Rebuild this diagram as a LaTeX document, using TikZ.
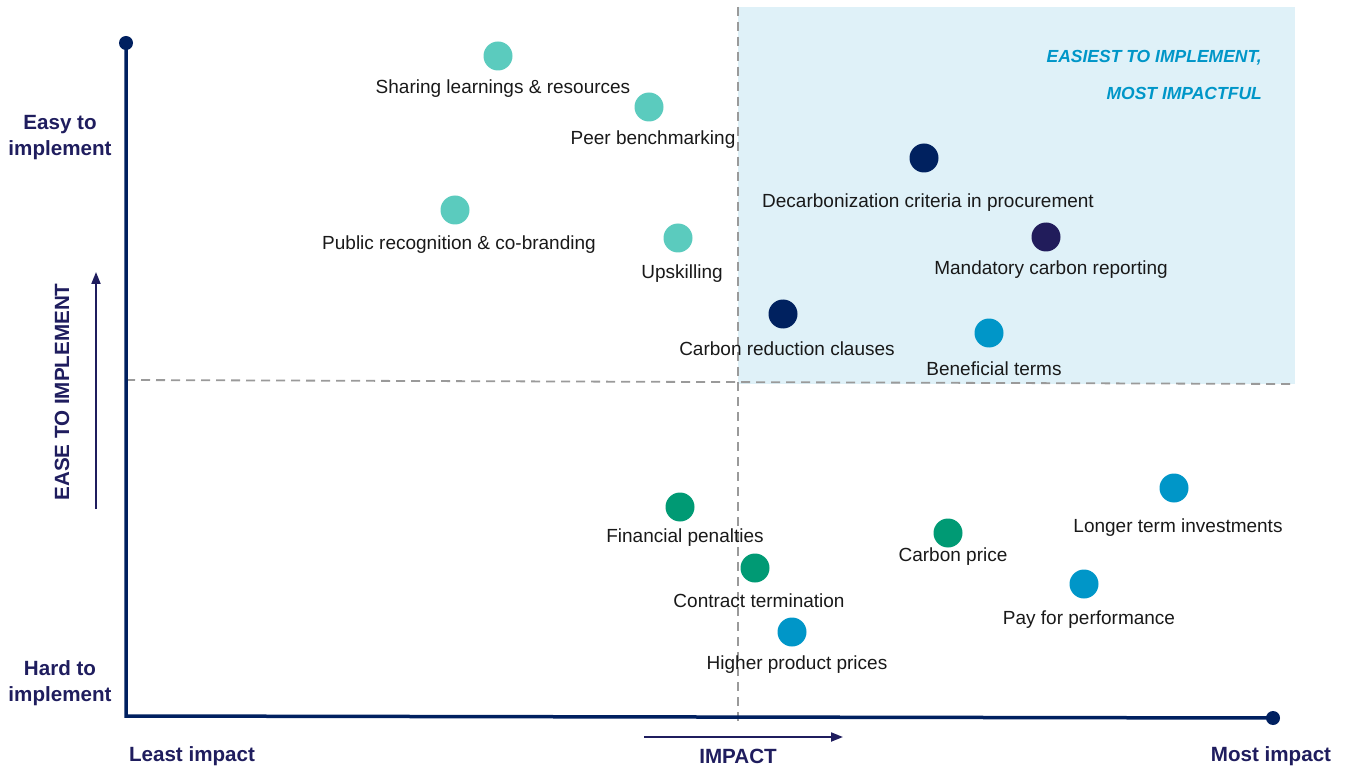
\documentclass[tikz,border=0pt]{standalone}
\usepackage{fontspec}
\setmainfont{Liberation Sans}
\usetikzlibrary{arrows.meta}
\definecolor{teal}{HTML}{5BCBBE}
\definecolor{navy}{HTML}{00215F}
\definecolor{indigo}{HTML}{211C5B}
\definecolor{cblue}{HTML}{0096C8}
\definecolor{cgreen}{HTML}{009A74}
\definecolor{zone}{HTML}{DFF1F8}
\definecolor{axisc}{HTML}{002060}
\definecolor{axtext}{HTML}{1F1D5E}
\definecolor{dashc}{HTML}{9A9A9A}
\tikzset{
  dot/.style={circle,fill=#1,minimum size=29pt,inner sep=0pt,draw=none},
  lbl/.style={font=\fontsize{19}{22}\selectfont,text=black!90,inner sep=0pt,yshift=-2pt},
  axlbl/.style={font=\fontsize{20.6}{26}\selectfont\bfseries,text=axtext,align=center,inner sep=0pt},
  enddot/.style={circle,fill=axisc,minimum size=14pt,inner sep=0pt},
  guide/.style={dashc,line width=1.8pt,dash pattern=on 9pt off 6pt},
  axis/.style={axisc,line width=3.5pt},
  dirarrow/.style={axtext,line width=2pt,-{Triangle[length=12pt,width=9pt]}},
  zonetxt/.style={font=\fontsize{17.5}{21}\selectfont\bfseries\itshape,text=cblue,anchor=east,inner sep=0pt}
}
\begin{document}
\begin{tikzpicture}[x=1pt,y=-1pt]
\useasboundingbox (0,0) rectangle (1349,767);
\fill[zone] (738,7) rectangle (1295,384);
% guides
\coordinate (hl) at (126,380);
\coordinate (hr) at (1295,384);
\coordinate (vt) at (738,7);
\coordinate (vb) at (738,722);
\draw[guide] (hl) -- (hr);
\draw[guide] (vt) -- (vb);
% axes
\node[enddot] (top) at (126,43) {};
\node[enddot] (right) at (1273,718) {};
\coordinate (origin) at (126,716);
\draw[axis] (top.center) -- (origin) -- (right.center);
% direction arrows
\coordinate (ya) at (96,509);
\coordinate (yb) at (96,272);
\draw[dirarrow] (ya) -- (yb);
\coordinate (xa) at (644,737);
\coordinate (xb) at (843,737);
\draw[dirarrow] (xa) -- (xb);
\node[axlbl,rotate=90] (ease) at (62,392) {EASE TO IMPLEMENT};
\node[axlbl] (impact) at (738,756) {IMPACT};
\node[axlbl] (least) at (192,756) {Least impact};
\node[axlbl] (most) at (1271,756) {Most impact};
\node[axlbl] (easy) at (60,138) {Easy to\\implement};
\node[axlbl] (hard) at (60,683) {Hard to\\implement};
% zone title
\node[zonetxt] (z1) at (1262,58) {EASIEST TO IMPLEMENT,};
\node[zonetxt] (z2) at (1262,93) {MOST IMPACTFUL};
% dots and labels
\node[dot=teal] (d1) at (498,56) {};
\node[lbl] (l1) at (503,87) {Sharing learnings \& resources};
\node[dot=teal] (d2) at (649,107) {};
\node[lbl] (l2) at (653,138) {Peer benchmarking};
\node[dot=teal] (d3) at (455,210) {};
\node[lbl] (l3) at (459,243) {Public recognition \& co-branding};
\node[dot=teal] (d4) at (678,238) {};
\node[lbl] (l4) at (682,272) {Upskilling};
\node[dot=navy] (d5) at (924,158) {};
\node[lbl] (l5) at (928,201) {Decarbonization criteria in procurement};
\node[dot=indigo] (d6) at (1046,237) {};
\node[lbl] (l6) at (1051,268) {Mandatory carbon reporting};
\node[dot=navy] (d7) at (783,314) {};
\node[lbl] (l7) at (787,347) {Carbon reduction clauses};
\node[dot=cblue] (d8) at (989,333) {};
\node[lbl] (l8) at (994,367) {Beneficial terms};
\node[dot=cgreen] (d9) at (680,507) {};
\node[lbl] (l9) at (685,536) {Financial penalties};
\node[dot=cgreen] (d10) at (948,533) {};
\node[lbl] (l10) at (953,555) {Carbon price};
\node[dot=cblue] (d11) at (1174,488) {};
\node[lbl] (l11) at (1178,526) {Longer term investments};
\node[dot=cgreen] (d12) at (755,568) {};
\node[lbl] (l12) at (759,599) {Contract termination};
\node[dot=cblue] (d13) at (1084,584) {};
\node[lbl] (l13) at (1089,618) {Pay for performance};
\node[dot=cblue] (d14) at (792,632) {};
\node[lbl] (l14) at (797,663) {Higher product prices};
\end{tikzpicture}
\end{document}
